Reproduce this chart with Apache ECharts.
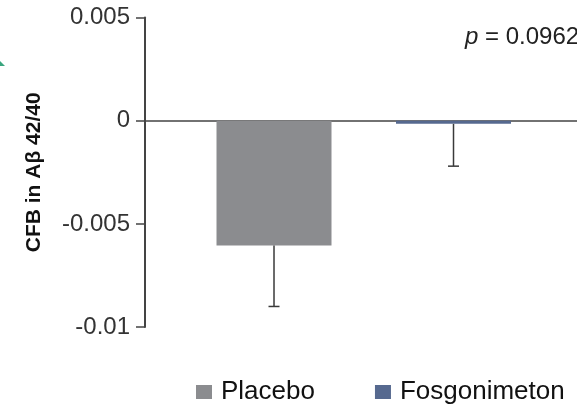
<!DOCTYPE html>
<html>
<head>
<meta charset="utf-8">
<style>html,body{margin:0;padding:0;background:#fff;overflow:hidden}#c{width:577px;height:404px}</style>
<script src="https://cdn.jsdelivr.net/npm/echarts@6/dist/echarts.min.js"></script>
</head>
<body>
<div id="c"></div>
<script>
const categories = ['Placebo', 'Fosgonimeton'];
const means = [-0.00605, -0.00015];
const errorEnds = [-0.0090, -0.0022];
const colors = ['#8b8c8f', '#56698f'];
const axisTitle = 'CFB in A\u03b2 42/40';
const pLabel = '0.0962';
const FONT = '"Liberation Sans", Arial, sans-serif';

const chart = echarts.init(document.getElementById('c'), null, {renderer: 'canvas'});
chart.setOption({
  animation: false,
  backgroundColor: '#fff',
  grid: {left: 145, right: 0, top: 17.6, height: 309.5, containLabel: false},
  xAxis: {
    type: 'value', min: -0.7187, max: 1.688,
    axisLine: {show: true, onZero: true, lineStyle: {color: '#444', width: 1.5}},
    axisTick: {show: false}, axisLabel: {show: false}, splitLine: {show: false}
  },
  yAxis: {
    type: 'value', min: -0.01, max: 0.005, interval: 0.005,
    name: axisTitle, nameLocation: 'middle', nameGap: 100,
    nameRotate: 90,
    nameTextStyle: {fontFamily: FONT, fontWeight: 'bold', fontSize: 21, color: '#111'},
    axisLine: {show: true, onZero: false, lineStyle: {color: '#444', width: 2}},
    axisTick: {show: true, length: 9, lineStyle: {color: '#444', width: 1.5}},
    axisLabel: {margin: 15, fontFamily: FONT, fontSize: 24, color: '#333'},
    splitLine: {show: false}
  },
  legend: {
    data: categories, left: 191, top: 374, icon: 'rect', itemWidth: 16, itemHeight: 14, itemGap: 60,
    selectedMode: false,
    textStyle: {fontFamily: FONT, fontSize: 26, color: '#111', padding: [0, 0, 0, 4]}
  },
  series: [
    {name: categories[0], type: 'bar', barWidth: 115, barGap: '-100%', z: 1,
     itemStyle: {color: colors[0]}, data: [[0, means[0]]]},
    {name: categories[1], type: 'bar', barWidth: 115, barGap: '-100%', z: 1,
     itemStyle: {color: colors[1]}, data: [[1, means[1]]]},
    {name: 'error', type: 'custom', z: 5, silent: true,
     data: errorEnds.map((e, i) => [i, means[i], e]),
     encode: {x: 0, y: [1, 2]},
     renderItem: (params, api) => {
       const a = api.coord([api.value(0), api.value(1)]);
       const b = api.coord([api.value(0), api.value(2)]);
       const st = {stroke: '#3a3a3a', lineWidth: 1.5, fill: null};
       return {type: 'group', children: [
         {type: 'line', shape: {x1: a[0], y1: a[1], x2: b[0], y2: b[1]}, style: st},
         {type: 'line', shape: {x1: b[0] - 5.5, y1: b[1], x2: b[0] + 5.5, y2: b[1]}, style: st}
       ]};
     }}
  ],
  graphic: [
    {type: 'text', left: 465, top: 25, silent: true, style: {
      text: '{i|p} = ' + pLabel,
      fontFamily: FONT, fontSize: 24, fill: '#222',
      rich: {i: {fontStyle: 'italic', fontFamily: FONT, fontSize: 24, fill: '#222'}}
    }},
    {type: 'polygon', silent: true, shape: {points: [[0, 66], [5, 66], [0, 61]]}, style: {fill: '#3aa57f'}}
  ]
});
</script>
</body>
</html>
